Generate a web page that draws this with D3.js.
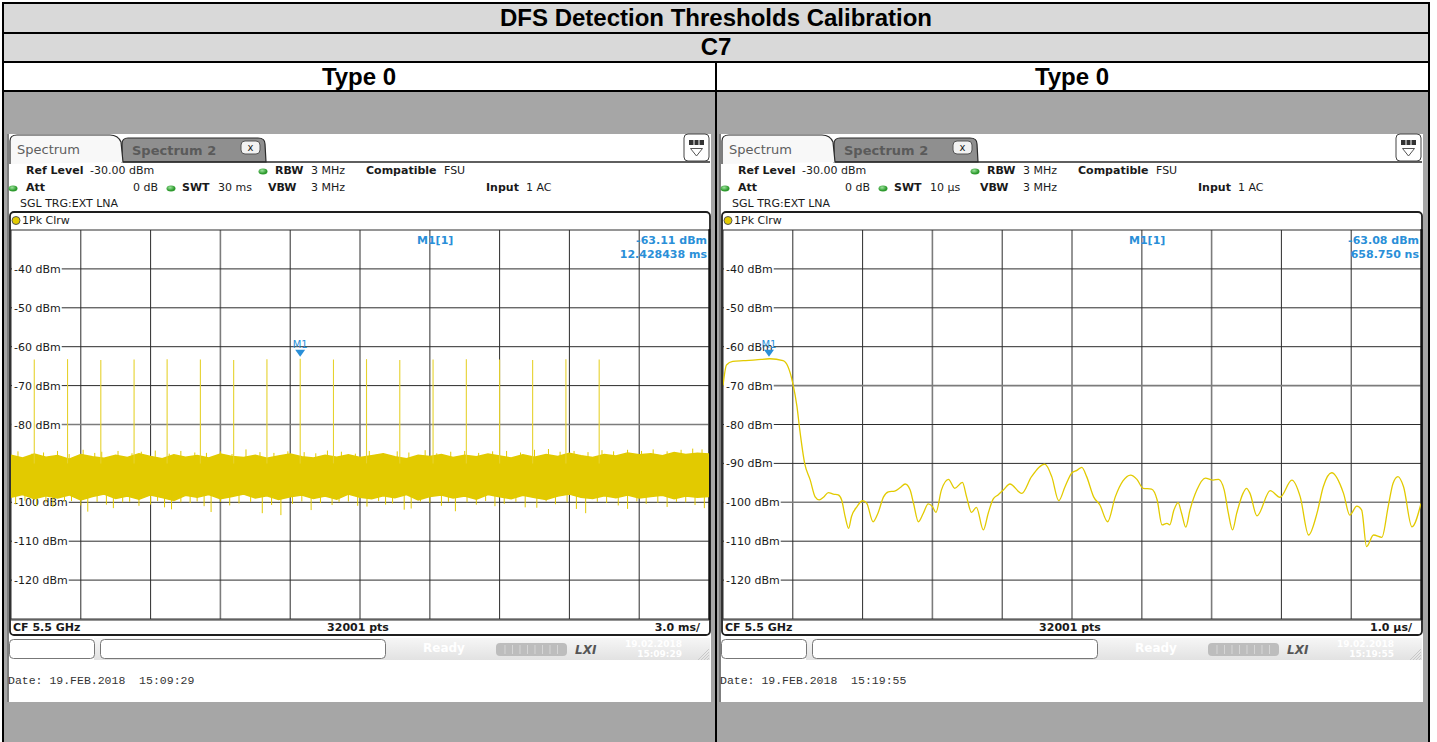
<!DOCTYPE html>
<html>
<head>
<meta charset="utf-8">
<script src="https://cdn.jsdelivr.net/npm/d3@7"></script>
<style>
  body { margin: 0; background: #fff; }
  svg { display: block; }
  .ui { font-family: "DejaVu Sans", sans-serif; font-size: 11px; fill: #1a1a1a; }
  .b { font-weight: bold; }
  .tbl { font-family: "Liberation Sans", Arial, sans-serif; font-weight: bold; font-size: 24px; fill: #000; }
</style>
</head>
<body>
<svg id="chart" width="1437" height="742"></svg>
<script>
// ---- data ----
const title = "DFS Detection Thresholds Calibration";
const channel = "C7";
const panelTitles = ["Type 0", "Type 0"];
const yTicks = [-40, -50, -60, -70, -80, -90, -100, -110, -120];

// left plot: 30 ms sweep, 18 radar pulses over the noise floor
const pulseTimes = [1.00, 2.43, 3.86, 5.29, 6.71, 8.14, 9.57, 11.00, 12.43, 13.86, 15.28, 16.71, 18.14, 19.57, 21.00, 22.42, 23.85, 25.28];
const pulseLevels = [-63.3, -63.2, -63.4, -63.3, -63.2, -63.3, -63.4, -63.2, -63.11, -63.3, -63.2, -63.4, -63.3, -63.2, -63.3, -63.4, -63.2, -63.3];
// noise band edges (dBm), evenly across the sweep
const noiseHi = [-87.9, -88.6, -87.6, -88.4, -88.0, -88.9, -87.7, -88.3, -88.7, -87.9, -88.5, -87.5, -88.2, -88.8, -87.8, -88.4, -88.0, -88.6, -87.6, -88.2, -88.5, -87.9, -88.7, -88.1, -87.6, -88.3, -88.6, -87.9, -88.4, -87.8, -88.5, -88.0, -87.5, -88.3, -88.8, -87.9, -88.2, -87.7, -88.5, -87.9, -88.3, -87.6, -88.1, -88.6, -87.8, -88.4, -87.7, -88.2, -87.4, -88.0, -88.5, -87.7, -88.1, -87.3, -87.8, -87.5, -88.0, -87.2, -87.7, -87.4, -87.6];
const noiseLo = [-98.7, -98.0, -99.1, -98.3, -98.9, -98.1, -99.4, -98.5, -97.9, -99.0, -98.4, -99.2, -98.1, -98.8, -99.5, -98.2, -98.7, -98.0, -99.1, -98.5, -97.9, -98.9, -98.3, -99.3, -98.6, -98.1, -99.0, -98.4, -99.2, -97.9, -98.7, -99.1, -98.3, -98.8, -98.0, -99.4, -98.5, -98.1, -98.9, -98.4, -99.2, -98.0, -98.6, -99.1, -98.2, -98.8, -99.3, -98.4, -97.9, -98.7, -99.0, -98.3, -98.8, -98.1, -98.9, -98.5, -98.2, -99.1, -98.4, -98.7, -98.5];
// single deep / high samples sticking out of the band
const tipsDownT = [0.2, 0.6, 1.1, 1.5, 1.8, 2.3, 2.6, 3.0, 3.3, 3.7, 4.1, 4.4, 4.8, 5.1, 5.5, 6.0, 6.3, 6.6, 6.9, 7.3, 7.7, 8.0, 8.3, 8.6, 9.0, 9.4, 9.8, 10.3, 10.8, 11.2, 11.6, 12.1, 12.5, 12.9, 13.3, 13.8, 14.1, 14.5, 14.9, 15.3, 15.8, 16.1, 16.4, 16.9, 17.2, 17.6, 18.0, 18.5, 18.8, 19.1, 19.6, 20.0, 20.4, 20.8, 21.2, 21.7, 22.1, 22.6, 23.0, 23.4, 23.9, 24.3, 24.7, 25.2, 25.6, 26.1, 26.5, 26.9, 27.3, 27.8, 28.2, 28.6, 29.0, 29.4, 29.8];
const tipsDownL = [-100.5, -99.6, -101.0, -100.1, -101.2, -99.8, -99.7, -100.8, -102.4, -99.9, -100.6, -101.5, -100.0, -99.9, -100.9, -100.6, -99.7, -101.3, -101.8, -100.0, -100.2, -99.8, -101.0, -102.5, -99.9, -100.8, -100.3, -99.9, -102.8, -100.7, -103.3, -100.4, -99.8, -102.0, -100.2, -100.7, -99.9, -99.8, -100.9, -101.1, -99.7, -100.6, -100.3, -101.9, -101.6, -99.8, -100.1, -100.9, -99.9, -102.3, -100.0, -100.6, -99.7, -101.0, -100.4, -99.9, -101.3, -101.4, -99.8, -100.5, -100.0, -101.7, -102.8, -99.9, -100.2, -100.8, -101.7, -99.8, -100.4, -100.1, -101.2, -99.9, -100.0, -100.7, -101.5];
const tipsUpT = [0.3, 0.9, 1.4, 2.0, 2.5, 3.1, 3.6, 3.9, 4.6, 5.2, 5.6, 6.2, 6.8, 7.3, 7.9, 8.4, 9.0, 9.5, 10.1, 10.7, 11.3, 11.9, 12.6, 13.1, 13.6, 14.2, 14.8, 15.4, 16.0, 16.6, 17.1, 17.8, 18.3, 18.9, 19.5, 20.1, 20.7, 21.3, 21.9, 22.5, 23.1, 23.6, 24.2, 24.8, 25.4, 25.9, 26.5, 27.1, 27.6, 28.2, 28.8, 29.3, 29.7];
const tipsUpL = [-86.9, -87.5, -87.2, -86.8, -87.6, -86.5, -87.3, -87.0, -86.8, -87.4, -87.0, -86.7, -87.5, -86.8, -87.2, -87.3, -86.9, -87.6, -86.4, -87.1, -87.3, -86.9, -87.1, -87.4, -86.7, -87.0, -87.5, -86.8, -87.4, -86.9, -87.2, -86.6, -87.4, -87.0, -86.8, -87.3, -86.9, -86.8, -87.2, -86.5, -86.3, -87.0, -86.8, -87.1, -86.6, -86.9, -86.5, -86.8, -86.4, -86.9, -86.5, -86.2, -86.4];

// right plot: 10 us sweep, one pulse then noise
const burstTimes = [0.00, 0.05, 0.14, 0.29, 0.47, 0.67, 0.86, 0.93, 1.00, 1.06, 1.10, 1.17, 1.25, 1.32, 1.38, 1.44, 1.51, 1.58, 1.65, 1.70, 1.75, 1.80, 1.84, 1.92, 2.00, 2.06, 2.15, 2.22, 2.30, 2.37, 2.46, 2.54, 2.61, 2.68, 2.73, 2.80, 2.87, 2.94, 3.00, 3.05, 3.13, 3.23, 3.32, 3.43, 3.49, 3.56, 3.63, 3.73, 3.80, 3.87, 3.94, 4.02, 4.11, 4.28, 4.42, 4.61, 4.71, 4.81, 4.90, 5.00, 5.07, 5.14, 5.21, 5.31, 5.40, 5.51, 5.62, 5.73, 5.84, 5.93, 6.02, 6.14, 6.22, 6.29, 6.36, 6.40, 6.46, 6.52, 6.57, 6.63, 6.69, 6.79, 6.91, 7.02, 7.10, 7.18, 7.24, 7.30, 7.36, 7.45, 7.50, 7.55, 7.65, 7.84, 7.98, 8.15, 8.27, 8.39, 8.51, 8.60, 8.72, 8.89, 8.98, 9.08, 9.15, 9.22, 9.32, 9.44, 9.53, 9.60, 9.67, 9.75, 9.87, 10.00];
const burstLevels = [-70.0, -64.7, -63.8, -63.6, -63.4, -63.1, -63.6, -65.1, -69.4, -75.4, -81.4, -90.0, -94.3, -98.6, -99.4, -98.7, -97.5, -97.9, -98.1, -99.4, -103.7, -106.7, -103.7, -101.1, -99.6, -100.3, -105.0, -102.8, -98.6, -97.3, -97.1, -96.2, -95.3, -96.8, -100.3, -105.0, -102.8, -100.4, -101.1, -102.6, -96.8, -94.1, -96.4, -94.9, -98.6, -102.6, -101.3, -107.1, -102.8, -99.2, -98.1, -96.8, -95.3, -97.7, -93.4, -90.2, -93.4, -99.6, -96.0, -92.4, -91.8, -91.0, -93.4, -98.6, -100.7, -105.0, -98.6, -94.5, -93.0, -94.1, -96.4, -96.6, -99.4, -105.8, -105.4, -105.8, -102.0, -100.1, -102.8, -106.4, -102.0, -96.8, -93.8, -94.3, -94.1, -96.8, -102.8, -107.1, -102.8, -97.7, -96.4, -97.7, -103.5, -97.0, -98.7, -94.3, -98.6, -108.4, -102.8, -96.0, -92.4, -97.7, -103.3, -101.0, -102.0, -111.4, -108.4, -109.0, -101.1, -95.1, -93.4, -96.0, -106.3, -100.3];

const panels = [
  { ox: 0, sweep: 30, swt: "30 ms", div: "3.0 ms/", mT: 12.428438, mL: -63.11,
    mVal: "-63.11 dBm", mPos: "12.428438 ms", time: "15:09:29",
    vGray: [3, 6], hGray: [-80] },
  { ox: 712, sweep: 10, swt: "10 \u00b5s", div: "1.0 \u00b5s/", mT: 0.65875, mL: -63.08,
    mVal: "-63.08 dBm", mPos: "658.750 ns", time: "15:19:55",
    vGray: [3, 6, 7], hGray: [-70, -100] }
];

const YELLOW = "#e2ca00";
const BLUE = "#2a8fd8";
const svg = d3.select("#chart");

// ---- outer table ----
svg.append("rect").attr("x", 3).attr("y", 3).attr("width", 1426).attr("height", 59).attr("fill", "#d9d9d9");
svg.append("rect").attr("x", 3).attr("y", 91).attr("width", 1426).attr("height", 651).attr("fill", "#a6a6a6");
[3, 33, 62, 91].forEach(y => svg.append("line").attr("x1", 2).attr("x2", 1430).attr("y1", y).attr("y2", y)
  .attr("stroke", "#000").attr("stroke-width", 2));
[[3, 3], [1429, 3], [716, 62]].forEach(([x, y0]) => svg.append("line").attr("x1", x).attr("x2", x)
  .attr("y1", y0).attr("y2", 742).attr("stroke", "#000").attr("stroke-width", 2));
svg.append("text").attr("class", "tbl").attr("x", 716).attr("y", 26).attr("text-anchor", "middle").text(title);
svg.append("text").attr("class", "tbl").attr("x", 716).attr("y", 55).attr("text-anchor", "middle").text(channel);
panelTitles.forEach((t, i) => svg.append("text").attr("class", "tbl").attr("x", i ? 1072 : 359).attr("y", 85)
  .attr("text-anchor", "middle").text(t));

const defs = svg.append("defs");
const grad = defs.append("linearGradient").attr("id", "bar").attr("x1", 0).attr("x2", 0).attr("y1", 0).attr("y2", 1);
grad.append("stop").attr("offset", 0).attr("stop-color", "#f6f6f6");
grad.append("stop").attr("offset", 1).attr("stop-color", "#e2e2e2");
const dot = defs.append("radialGradient").attr("id", "dot").attr("cx", 0.4).attr("cy", 0.35);
dot.append("stop").attr("offset", 0).attr("stop-color", "#9be39b");
dot.append("stop").attr("offset", 1).attr("stop-color", "#2e9a2e");

function txt(g, x, y, s, cls, anchor) {
  return g.append("text").attr("class", "ui " + (cls || "")).attr("x", x).attr("y", y)
    .attr("text-anchor", anchor || "start").text(s);
}

function drawPanel(p, idx) {
  const g = svg.append("g").attr("transform", `translate(${p.ox},0)`);
  const x = d3.scaleLinear().domain([0, p.sweep]).range([11, 709]);
  const y = d3.scaleLinear().domain([-130, -30]).range([619, 230]);

  // screen
  g.append("rect").attr("x", 7).attr("y", 134).attr("width", 704).attr("height", 568).attr("fill", "#fff");
  g.append("line").attr("x1", 8).attr("x2", 8).attr("y1", 134).attr("y2", 702).attr("stroke", "#555").attr("stroke-width", 1.5);

  // tabs
  g.append("path").attr("d", "M122,162 L122,144 Q122,138 128,138 L258,138 Q265,138 265,144 L266,162 Z")
    .attr("fill", "#8f8f8f").attr("stroke", "#2a2a2a").attr("stroke-width", 1.2);
  g.append("path").attr("d", "M10,164 L10,141 Q10,135 17,135 L110,135 Q118,135 121,142 L123,162")
    .attr("fill", "#f8f8f8").attr("stroke", "#2a2a2a").attr("stroke-width", 1.2);
  g.append("line").attr("x1", 123).attr("x2", 710).attr("y1", 162).attr("y2", 162).attr("stroke", "#2a2a2a").attr("stroke-width", 1.5);
  g.append("text").attr("class", "ui").attr("x", 17).attr("y", 154).style("font-size", "13px").style("fill", "#5e5e5e").text("Spectrum");
  g.append("text").attr("class", "ui b").attr("x", 132).attr("y", 155).style("font-size", "13px").style("fill", "#5a5a5a").text("Spectrum 2");
  g.append("rect").attr("x", 241).attr("y", 141).attr("width", 19).attr("height", 13).attr("rx", 4)
    .attr("fill", "#f2f2f2").attr("stroke", "#555");
  txt(g, 250.5, 151, "x", "", "middle").style("font-size", "10px");
  // menu icon
  g.append("rect").attr("x", 684).attr("y", 134).attr("width", 25).attr("height", 27).attr("rx", 4)
    .attr("fill", "#fff").attr("stroke", "#444");
  g.append("rect").attr("x", 689).attr("y", 140).attr("width", 15).attr("height", 5).attr("fill", "#333");
  [694, 699].forEach(v => g.append("line").attr("x1", v).attr("x2", v).attr("y1", 140).attr("y2", 145).attr("stroke", "#fff"));
  g.append("path").attr("d", "M690.5,148.5 L702.5,148.5 L696.5,156 Z").attr("fill", "none").attr("stroke", "#555");

  // header info
  const dotAt = (cx, cy) => g.append("ellipse").attr("cx", cx).attr("cy", cy).attr("rx", 4.5).attr("ry", 3)
    .attr("fill", "url(#dot)");
  txt(g, 26, 174, "Ref Level", "b"); txt(g, 90, 174, "-30.00 dBm");
  dotAt(263, 171.5); txt(g, 275, 174, "RBW", "b"); txt(g, 311, 174, "3 MHz");
  txt(g, 366, 174, "Compatible", "b"); txt(g, 444, 174, "FSU");
  dotAt(13, 188.5); txt(g, 26, 191, "Att", "b"); txt(g, 158, 191, "0 dB", "", "end");
  dotAt(171, 188.5); txt(g, 182, 191, "SWT", "b"); txt(g, 218, 191, p.swt);
  txt(g, 268, 191, "VBW", "b"); txt(g, 311, 191, "3 MHz");
  txt(g, 486, 191, "Input", "b"); txt(g, 526, 191, "1 AC");
  txt(g, 20, 207, "SGL TRG:EXT LNA");

  // trace box
  g.append("rect").attr("x", 10).attr("y", 212).attr("width", 700).attr("height", 423).attr("rx", 4)
    .attr("fill", "#fff").attr("stroke", "#1e1e1e").attr("stroke-width", 1.8);
  g.append("circle").attr("cx", 16).attr("cy", 220.5).attr("r", 4).attr("fill", "#e3cb00").attr("stroke", "#555");
  txt(g, 22, 224, "1Pk Clrw");

  // grid
  const grid = g.append("g");
  d3.range(11).forEach(i => {
    const gx = x(p.sweep * i / 10);
    const gray = p.vGray.includes(i);
    grid.append("line").attr("x1", gx).attr("x2", gx).attr("y1", 230).attr("y2", 619)
      .attr("stroke", gray ? "#7c7c7c" : "#2c2c2c").attr("stroke-width", gray ? 1.6 : 1);
  });
  d3.range(-130, -20, 10).forEach(v => {
    const gray = p.hGray.includes(v);
    grid.append("line").attr("x1", 11).attr("x2", 709).attr("y1", y(v)).attr("y2", y(v))
      .attr("stroke", gray ? "#7c7c7c" : "#2c2c2c").attr("stroke-width", gray ? 1.6 : 1);
  });
  g.append("line").attr("x1", 709.5).attr("x2", 709.5).attr("y1", 229).attr("y2", 620).attr("stroke", "#111").attr("stroke-width", 2);
  yTicks.forEach(v => {
    const t = txt(g, 14, y(v) + 4, v + " dBm");
    const w = t.node().getComputedTextLength();
    g.insert("rect", () => t.node()).attr("x", 12).attr("y", y(v) - 6).attr("width", w + 3).attr("height", 12).attr("fill", "#fff");
  });

  // trace
  const clipId = "clip" + idx;
  defs.append("clipPath").attr("id", clipId).append("rect").attr("x", 11).attr("y", 230).attr("width", 698).attr("height", 389);
  const tr = g.append("g").attr("clip-path", `url(#${clipId})`);
  if (idx === 0) {
    const n = noiseHi.length;
    const band = d3.area().x((d, i) => x(p.sweep * i / (n - 1))).y0((d, i) => y(noiseLo[i])).y1(d => y(d));
    tr.append("path").attr("d", band(noiseHi)).attr("fill", YELLOW).attr("stroke", YELLOW).attr("stroke-width", 1.5);
    tipsDownT.forEach((t, i) => tr.append("line").attr("x1", x(t)).attr("x2", x(t))
      .attr("y1", y(-97)).attr("y2", y(tipsDownL[i])).attr("stroke", YELLOW).attr("stroke-width", 1));
    tipsUpT.forEach((t, i) => tr.append("line").attr("x1", x(t)).attr("x2", x(t))
      .attr("y1", y(-89)).attr("y2", y(tipsUpL[i])).attr("stroke", YELLOW).attr("stroke-width", 1));
    pulseTimes.forEach((t, i) => tr.append("line").attr("x1", x(t)).attr("x2", x(t))
      .attr("y1", y(-90)).attr("y2", y(pulseLevels[i])).attr("stroke", "#e6d22e").attr("stroke-width", 1.1));
  } else {
    const line = d3.line().x((d, i) => x(burstTimes[i])).y(d => y(d)).curve(d3.curveMonotoneX);
    tr.append("path").attr("d", line(burstLevels)).attr("fill", "none").attr("stroke", YELLOW).attr("stroke-width", 1.3);
  }

  // marker
  const mx = x(p.mT), my = y(p.mL);
  g.append("path").attr("d", `M${mx - 5},${my - 9} L${mx + 5},${my - 9} L${mx},${my - 2} Z`).attr("fill", BLUE);
  txt(g, mx, my - 11, "M1", "", "middle").style("fill", BLUE).style("font-size", "10px");
  txt(g, 417, 244, "M1[1]", "b").style("fill", BLUE);
  txt(g, 707, 244, p.mVal, "b", "end").style("fill", BLUE);
  txt(g, 707, 258, p.mPos, "b", "end").style("fill", BLUE);

  // footer of the trace box
  g.append("line").attr("x1", 11).attr("x2", 709).attr("y1", 620).attr("y2", 620).attr("stroke", "#2c2c2c");
  txt(g, 13, 631, "CF 5.5 GHz", "b");
  txt(g, 358, 631, "32001 pts", "b", "middle");
  txt(g, 700, 631, p.div, "b", "end");

  // status bar
  g.append("rect").attr("x", 94).attr("y", 638).attr("width", 616).attr("height", 22).attr("fill", "url(#bar)");
  g.append("rect").attr("x", 9.5).attr("y", 639.5).attr("width", 85).attr("height", 19).attr("rx", 4)
    .attr("fill", "#fff").attr("stroke", "#777");
  g.append("rect").attr("x", 100.5).attr("y", 639.5).attr("width", 285).attr("height", 19).attr("rx", 4)
    .attr("fill", "#fff").attr("stroke", "#777");
  txt(g, 423, 652, "Ready", "b").style("fill", "#fff").style("font-size", "12px");
  g.append("rect").attr("x", 496).attr("y", 643).attr("width", 71).attr("height", 13).attr("rx", 4).attr("fill", "#bdbdbd");
  d3.range(8).forEach(i => g.append("line").attr("x1", 505 + i * 7.5).attr("x2", 505 + i * 7.5)
    .attr("y1", 645).attr("y2", 654).attr("stroke", "#d6d6d6"));
  txt(g, 575, 654, "LXI", "b").style("fill", "#555").style("font-style", "italic").style("font-size", "12px");
  txt(g, 682, 647, "19.02.2018", "b", "end").style("fill", "#fff").style("font-size", "9px");
  txt(g, 682, 657, p.time, "b", "end").style("fill", "#fff").style("font-size", "9px");
  d3.range(4).forEach(i => g.append("line").attr("x1", 698 + i * 3).attr("x2", 709).attr("y1", 660)
    .attr("y2", 660 - (11 - i * 3)).attr("stroke", "#c8c8c8"));

  g.append("text").attr("x", 8).attr("y", 684).attr("xml:space", "preserve").style("white-space", "pre")
    .style("font-family", "'Liberation Mono', monospace")
    .style("font-size", "11.5px").style("fill", "#333").text("Date: 19.FEB.2018  " + p.time);
}

panels.forEach(drawPanel);
</script>
</body>
</html>
